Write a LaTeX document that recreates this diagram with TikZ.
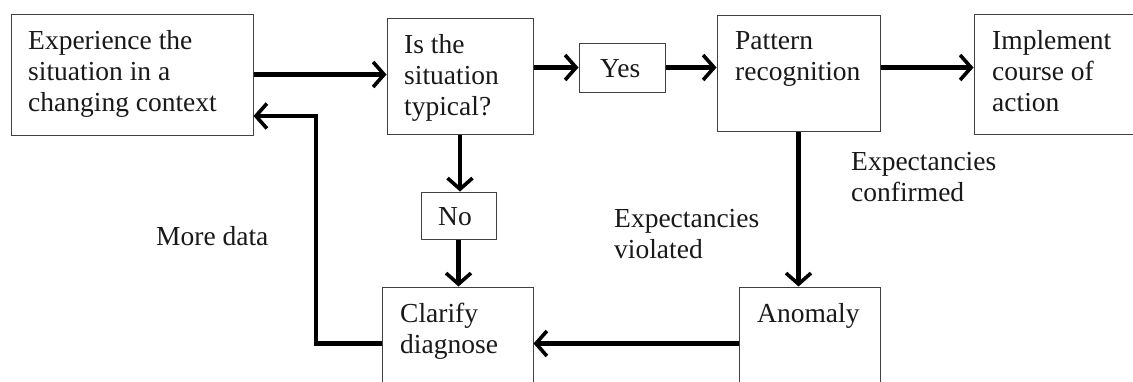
\documentclass[tikz,border=0pt]{standalone}
\usepackage{fontspec}
\setmainfont{Liberation Serif}
\usetikzlibrary{arrows.meta}

% stacked lines whose reference point is the first line's baseline
\newcommand{\stackedlines}[1]{\begin{tabular}[t]{@{}l@{}}#1\end{tabular}}

\tikzset{
  box/.style={draw=black!75, line width=1pt, inner sep=0pt, fill=white},
  txt/.style={anchor=base west, inner sep=0pt, text=black!90,
              font=\fontsize{27.5}{31}\selectfont},
  flow/.style={line width=4.4pt, draw=black,
               -{Straight Barb[length=11pt, width=25pt, line width=3.6pt]}}
}

\begin{document}
\begin{tikzpicture}[x=1pt, y=-1pt]
  \useasboundingbox (0,0) rectangle (1133,381);
  \clip (0,0) rectangle (1133,381);

  % boxes
  \node[box, minimum width=242pt, minimum height=121pt] (exp)  at (132,74.5)  {};
  \node[box, minimum width=146pt, minimum height=116pt] (typ)  at (460,76)    {};
  \node[box, minimum width=86pt,  minimum height=49pt]  (yes)  at (622,67.5)  {};
  \node[box, minimum width=163pt, minimum height=116pt] (pat)  at (798.5,73)  {};
  \node[box, minimum width=170pt, minimum height=120pt] (act)  at (1059,74)   {};
  \node[box, minimum width=75pt,  minimum height=47pt]  (no)   at (458.5,215.5) {};
  \node[box, minimum width=151pt, minimum height=113pt] (clar) at (457.5,343.5) {};
  \node[box, minimum width=141pt, minimum height=113pt] (anom) at (809.5,343.5) {};

  % box texts
  \node[txt] (t-exp)  at (28,49)   {\stackedlines{Experience the\\situation in a\\changing context}};
  \node[txt] (t-typ)  at (404,53)  {\stackedlines{Is the\\situation\\typical?}};
  \node[txt] (t-yes)  at (600,77)  {Yes};
  \node[txt] (t-pat)  at (735,49)  {\stackedlines{Pattern\\recognition}};
  \node[txt] (t-act)  at (992,49)  {\stackedlines{Implement\\course of\\action}};
  \node[txt] (t-no)   at (438,225) {No};
  \node[txt] (t-clar) at (400,322) {\stackedlines{Clarify\\diagnose}};
  \node[txt] (t-anom) at (757,322) {Anomaly};

  % connector labels
  \node[txt] (l-conf) at (851,170) {\stackedlines{Expectancies\\confirmed}};
  \node[txt] (l-viol) at (614,227) {\stackedlines{Expectancies\\violated}};
  \node[txt] (l-more) at (156,245) {More data};

  % connectors
  \coordinate (loop) at (316,116);
  \draw[flow] (exp.east) -- (typ.west |- exp.east);
  \draw[flow] (typ.east |- yes) -- (yes.west);
  \draw[flow] (yes.east) -- (pat.west |- yes.east);
  \draw[flow] (pat.east |- yes) -- (act.west |- yes);
  \draw[flow] (typ.south) -- (typ.south |- no.north);
  \draw[flow] (no.south) -- (no.south |- clar.north);
  \draw[flow] (pat.south) -- (pat.south |- anom.north);
  \draw[flow] (anom.west |- clar) -- (clar.east);
  \draw[flow] (clar.west) -| (loop) -- (exp.east |- loop);
\end{tikzpicture}
\end{document}
